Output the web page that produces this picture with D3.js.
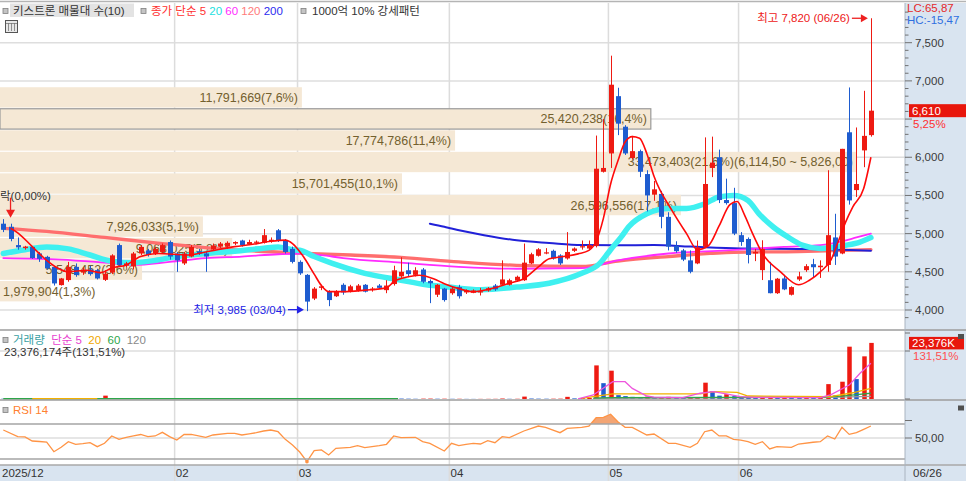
<!DOCTYPE html>
<html><head><meta charset="utf-8">
<script src="https://cdn.jsdelivr.net/npm/d3@7"></script>
<style>
html,body{margin:0;padding:0;background:#fff;overflow:hidden}
svg{display:block;font-family:"Liberation Sans","Noto Sans CJK KR",sans-serif}
</style></head><body>
<svg id="c" width="966" height="481"></svg>
<script>
// ---------------- DATA ----------------
const dates = [
"2025-12-26","2025-12-29","2025-12-30",
"2026-01-02","2026-01-05","2026-01-06","2026-01-07","2026-01-08","2026-01-09","2026-01-12","2026-01-13","2026-01-14","2026-01-15","2026-01-16","2026-01-19","2026-01-20","2026-01-21","2026-01-22","2026-01-23","2026-01-26","2026-01-27","2026-01-28","2026-01-29","2026-01-30",
"2026-02-02","2026-02-03","2026-02-04","2026-02-05","2026-02-06","2026-02-09","2026-02-10","2026-02-11","2026-02-12","2026-02-13","2026-02-19","2026-02-20","2026-02-23","2026-02-24","2026-02-25","2026-02-26","2026-02-27",
"2026-03-03","2026-03-04","2026-03-05","2026-03-06","2026-03-09","2026-03-10","2026-03-11","2026-03-12","2026-03-13","2026-03-16","2026-03-17","2026-03-18","2026-03-19","2026-03-20","2026-03-23","2026-03-24","2026-03-25","2026-03-26","2026-03-27","2026-03-30","2026-03-31",
"2026-04-01","2026-04-02","2026-04-03","2026-04-06","2026-04-07","2026-04-08","2026-04-09","2026-04-10","2026-04-13","2026-04-14","2026-04-15","2026-04-16","2026-04-17","2026-04-20","2026-04-21","2026-04-22","2026-04-23","2026-04-24","2026-04-27","2026-04-28","2026-04-29","2026-04-30",
"2026-05-04","2026-05-06","2026-05-07","2026-05-08","2026-05-11","2026-05-12","2026-05-13","2026-05-14","2026-05-15","2026-05-18","2026-05-19","2026-05-20","2026-05-21","2026-05-22","2026-05-26","2026-05-27","2026-05-28","2026-05-29",
"2026-06-01","2026-06-02","2026-06-04","2026-06-05","2026-06-08","2026-06-09","2026-06-10","2026-06-11","2026-06-12","2026-06-15","2026-06-16","2026-06-17","2026-06-18","2026-06-19","2026-06-22","2026-06-23","2026-06-24","2026-06-25","2026-06-26"];

const opens = [5130,5090,4850,4810,4826,4740,4696,4565,4326,4392,
4565,4495,4530,4522,4395,4490,4850,4580,4570,4740,
4780,4740,4760,4890,4740,4610,4700,4770,4740,4795,
4830,4830,4870,4910,4860,4880,4880,4900,5044,4913,
4800,4630,4460,4150,4290,4240,4180,4330,4240,4260,
4330,4260,4320,4260,4340,4440,4520,4460,4530,4380,
4200,4280,4220,4300,4230,4225,4240,4255,4320,4330,
4330,4385,4390,4610,4710,4750,4775,4715,4675,4775,
4830,4805,4840,5810,6050,6800,6400,5990,6080,5780,
5510,5520,5220,4840,4780,4650,4610,4830,5860,6000,
5440,5400,4980,4930,4740,4522,4390,4220,4413,4200,
4400,4522,4600,4560,4590,4950,4740,6327,5570,6090,
6290];
const highs = [5190,5130,4950,4840,4830,4760,4710,4570,4420,4630,
4610,4560,4580,4540,4520,4730,4870,4630,4760,4850,
4800,4830,4870,4910,4760,4760,4850,4800,4760,4870,
4890,4900,4900,4920,4920,4910,5060,4950,5060,4930,
4830,4650,4470,4300,4330,4260,4260,4350,4330,4340,
4340,4300,4340,4390,4580,4690,4620,4560,4550,4400,
4340,4290,4300,4330,4270,4270,4290,4300,4340,4650,
4410,4450,4870,4750,4810,4810,4790,4730,5020,4820,
4910,4910,6284,6500,7330,6910,6420,6280,6100,5830,
5690,5560,5280,4900,4800,4780,4910,6260,6270,6100,
5720,5600,5020,4950,4800,4913,4630,4420,4460,4310,
4500,4600,4670,4650,5830,5260,6110,6914,6390,6870,
7820];
const lows = [5020,4900,4790,4790,4670,4630,4530,4320,4320,4370,
4435,4460,4450,4400,4380,4470,4570,4560,4530,4720,
4700,4720,4740,4660,4500,4590,4690,4720,4500,4780,
4810,4800,4850,4830,4850,4860,4870,4880,4890,4740,
4610,4460,3985,4130,4260,4050,4170,4200,4230,4240,
4230,4240,4280,4220,4320,4420,4430,4440,4350,4090,
4170,4110,4200,4150,4210,4220,4190,4240,4250,4320,
4320,4370,4380,4600,4700,4730,4660,4590,4660,4760,
4790,4790,4820,5800,5860,6290,6030,5970,5740,5290,
5430,5070,4780,4750,4640,4480,4600,4810,5740,5400,
5380,4980,4840,4610,4640,4392,4218,4210,4260,4190,
4380,4500,4420,4420,4500,4590,4730,5380,5480,5870,
6270];
const closes = [5050,4930,4820,4830,4680,4670,4545,4348,4413,4565,
4457,4505,4470,4413,4475,4715,4590,4610,4740,4826,
4720,4800,4850,4700,4650,4740,4826,4740,4700,4845,
4870,4880,4890,4850,4890,4895,4980,4920,4913,4760,
4630,4480,4110,4280,4310,4130,4240,4230,4310,4320,
4240,4280,4290,4320,4520,4500,4470,4520,4370,4350,
4330,4130,4280,4180,4256,4255,4245,4285,4270,4400,
4390,4435,4620,4730,4795,4755,4675,4610,4760,4805,
4835,4850,5850,5860,6950,6440,6050,6080,5810,5500,
5580,5220,4830,4770,4660,4500,4820,5650,5930,5440,
5400,5000,4890,4720,4760,4800,4220,4410,4270,4300,
4440,4574,4560,4580,4980,4700,6110,5435,5650,6280,
6610];
const volumes = [110000,150000,90000,70000,130000,100000,160000,210000,120000,180000,
110000,80000,90000,100000,1400000,200000,180000,90000,150000,120000,
80000,90000,110000,140000,130000,100000,120000,70000,110000,90000,
80000,90000,60000,80000,70000,60000,150000,70000,130000,140000,
160000,180000,240000,200000,120000,160000,90000,100000,80000,70000,
90000,60000,70000,110000,200000,180000,140000,100000,150000,170000,
120000,130000,90000,100000,60000,50000,60000,70000,80000,200000,
90000,100000,1000000,200000,150000,120000,130000,140000,900000,250000,
400000,500000,14000000,6600000,11800000,1600000,1200000,900000,800000,1000000,
700000,800000,900000,600000,500000,600000,700000,6800000,3300000,1400000,
2000000,1200000,900000,800000,500000,700000,900000,600000,700000,500000,
400000,500000,400000,500000,6200000,1500000,7200000,21800000,8300000,17775000,
23376174];

// moving averages: [trading-day index, value]
const ma5Pts = [[1,5070],[2,5010],[4,4830],[6,4650],[7.5,4550],[9,4500],[11.5,4520],[13.5,4490],[15,4550],[17,4590],[19,4700],[21.5,4740],[25.5,4720],[28,4760],[32,4830],[34.5,4860],[37,4900],[39,4915],[40,4870],[41.5,4700],[43,4470],[44,4320],[45,4240],[47,4240],[50,4260],[53,4290],[54,4370],[56,4435],[57.5,4455],[59.5,4410],[61,4345],[63,4280],[65,4240],[67.5,4280],[70,4350],[72,4410],[74,4565],[75.5,4670],[77.5,4700],[79.5,4735],[81,4780],[82,4900],[83,5200],[84,5650],[85,5950],[86,6200],[87,6270],[88,6250],[89,6050],[90,5750],[92.5,5300],[94.5,5000],[96,4790],[97.5,4840],[99,5100],[100.5,5380],[101.5,5420],[102.5,5250],[103.5,5030],[105,4740],[107.5,4500],[110,4330],[111.5,4390],[113,4500],[114.5,4660],[115.5,4900],[116.5,5150],[117.5,5350],[119,5590],[120,6000]];
const ma20Pts = [[0,4740],[3,4790],[6,4826],[9,4800],[12,4720],[15,4640],[18,4620],[21,4650],[24,4700],[28,4740],[32,4770],[36,4810],[38,4826],[40,4790],[41,4783],[43,4700],[45.5,4610],[50,4480],[55,4390],[58.5,4330],[61.5,4300],[66,4265],[71,4300],[75.5,4350],[80,4480],[82.5,4610],[84,4790],[85.5,4960],[86.5,5090],[89,5260],[92,5330],[94.5,5330],[97,5390],[99,5480],[101,5500],[103,5435],[104.5,5262],[106.5,5087],[108.5,4957],[110.5,4850],[113,4805],[115,4826],[116.5,4848],[118.5,4890],[120,4948]];
const ma60Pts = [[0,4680],[8,4660],[14,4620],[18,4590],[23,4630],[28,4680],[33,4700],[38,4730],[41,4740],[44,4718],[47,4680],[55,4620],[63,4565],[71,4540],[80,4548],[85,4650],[92,4740],[100,4780],[108,4826],[113,4850],[116,4900],[118,4950],[120,5000]];
const ma120Pts = [[0,5070],[6,5030],[14,4950],[22,4870],[30,4800],[41,4745],[48,4720],[55,4690],[63,4630],[71,4585],[80,4570],[85,4640],[92,4700],[101,4755],[110,4765],[120,4790]];
const ma200Pts = [[59,5130],[61,5090],[62,5066],[66.5,4980],[71,4913],[75.5,4878],[80,4850],[85,4848],[90,4850],[95,4830],[102,4805],[110,4800],[116,4790],[120,4775]];

// volume moving averages (null breaks the line)
const volMa5Pts = [[79.5,100000],[81.6,1700000],[84.3,7200000],[86,7200000],[87,4400000],[89,1250000],[90,800000],[94,600000],[96.4,2400000],[98.2,3100000],[100,2100000],[101.9,1000000],[104,700000],[113,600000],[114.5,1800000],[117,5800000],[118.5,10700000],[120,14900000]];
const volMa20Pts = [[4,150000],[13,150000],[14,null],[80,300000],[81.6,1000000],[84.3,2100000],[96.4,2100000],[98.2,3100000],[101.5,2800000],[103,1250000],[114.4,1000000],[117.5,2600000],[120,4400000]];
const volMa60Pts = [[0,100000],[54.6,100000],[55,null],[81.6,400000],[84,600000],[100,700000],[113,800000],[116,1200000],[118,1800000],[120,2400000]];
const volMa120Pts = [[81.6,300000],[100,500000],[113,600000],[120,1100000]];

// RSI 14
const rsiPts = [[0,61.4],[2,51.9],[3,51.5],[4,45.7],[5,45],[6,44],[7,30.4],[8,36.7],[9,44.8],[10,41],[11,42],[12,43.3],[13,37.6],[14,42.4],[15,52.9],[16,48.1],[17,51],[18,53],[19,55],[20,51.9],[21,52.9],[22,58.1],[23,51.9],[24,47.1],[25,55],[26,55.2],[28,51],[29,54.3],[31,56.7],[32,56.7],[33,54.3],[34,56],[35,57.6],[36,60],[37,61.4],[38,59],[39,48.1],[40,40],[41,30],[42,16.1],[43,31.9],[44,32.9],[45,25.7],[46,35.2],[47,36],[48,36.7],[49,39],[50,36.2],[52,39],[53,41],[54,52.9],[55,50.5],[57,51],[58,44.8],[59,42.4],[61,31.4],[62,42.4],[63,39],[64,41],[65,42.4],[66,41.4],[67,46.2],[68,43.3],[69,51.9],[70,50.5],[72,60],[74,67.1],[75,65.2],[77,57.6],[78,63.8],[80,65.2],[81,67.1],[82,79],[83,79.6],[84,83.9],[85,73.3],[86,65.2],[87,65.2],[89,54.3],[90,55.7],[92,42.4],[93,42.4],[95,36.7],[96,42.4],[97,59],[98,61.4],[99,52.9],[100,52.9],[101,48],[102,47.1],[103,44.8],[104,41],[105,44.8],[106,34.3],[107,37.6],[109,36.7],[110,41.4],[112,43.9],[113,44.8],[114,52.9],[115,48.6],[116,65.2],[117,55.2],[118,57.6],[119,62.4],[120,67.1]];

// price-volume profile (매물대), top band first
const bandEdges = [6925,6643,6361,6079,5797,5515,5233,4951,4669,4387,4105];
const bandVolumes = [11791669,25420238,17774786,33473403,15701455,26596556,7926033,9068025,5548452,1979904];
const bandPercents = [7.6,16.4,11.4,21.6,10.1,17.1,5.1,5.8,3.6,1.3];
const maxBandRange = [6114.50,5826.00];

const priceTicks = [4000,4500,5000,5500,6000,6500,7000,7500];
const monthTicks = [["2025-12-26","2025/12"],["2026-02-02","02"],["2026-03-03","03"],["2026-04-01","04"],["2026-05-04","05"],["2026-06-01","06"]];
const lcHc = ["LC:65,87","HC:-15,47"];
const signalLabel = "락(0,00%)";

// ---------------- DRAW ----------------
const svg = d3.select('#c');
const W = 966, H = 481, PR = 905;
const N = dates.length;
const x = d3.scaleLinear().domain([0, N-1]).range([3.3, 870.9]);
const yP = d3.scaleLinear().domain([4000, 7500]).range([310, 42.7]);
const yV = d3.scaleLinear().domain([0, 20e6]).range([399, 351]);
const yR = d3.scaleLinear().domain([20, 70]).range([459, 424]);
const UP = '#ee1a12', DN = '#1e5ccf';
const comma = s => s.replace(/\./g, ',');
const fmtInt = d3.format(',');
const fmt1 = d3.format('.1f'), fmt2 = d3.format('.2f'), fmtC2 = d3.format(',.2f');

const defs = svg.append('defs');
defs.append('clipPath').attr('id','cpP').append('rect').attr('x',0).attr('y',4).attr('width',PR).attr('height',326);
defs.append('clipPath').attr('id','cpV').append('rect').attr('x',0).attr('y',331).attr('width',PR).attr('height',69);
defs.append('clipPath').attr('id','cpR').append('rect').attr('x',0).attr('y',401).attr('width',PR).attr('height',64);
defs.append('clipPath').attr('id','cpOB').append('rect').attr('x',0).attr('y',401).attr('width',PR).attr('height',yR(70)-401);

// backgrounds
svg.append('rect').attr('width',W).attr('height',H).attr('fill','#fff');
svg.append('rect').attr('x',PR).attr('y',3).attr('width',W-PR).attr('height',462).attr('fill','#d9e4f0');
svg.append('rect').attr('x',0).attr('y',465).attr('width',W).attr('height',16).attr('fill','#d9e4f0');
svg.append('line').attr('x1',0).attr('x2',W).attr('y1',1.5).attr('y2',1.5).attr('stroke','#b4b4b4').attr('stroke-width',1.5);

// grid
const grid = svg.append('g');
grid.selectAll('line.hp').data(priceTicks).join('line')
  .attr('x1',0).attr('x2',PR).attr('y1',d=>yP(d)).attr('y2',d=>yP(d))
  .attr('stroke','#dedede').attr('stroke-width',1.5);
grid.append('line').attr('x1',0).attr('x2',PR).attr('y1',yV(20e6)).attr('y2',yV(20e6)).attr('stroke','#dedede').attr('stroke-width',1.5);
grid.append('line').attr('x1',0).attr('x2',PR).attr('y1',yR(50)).attr('y2',yR(50)).attr('stroke','#dedede').attr('stroke-width',1.5);
const mIdx = monthTicks.map(m => [dates.indexOf(m[0]), m[1]]);
grid.selectAll('line.vm').data(mIdx.slice(1)).join('line')
  .attr('x1',d=>x(d[0])-2.2).attr('x2',d=>x(d[0])-2.2).attr('y1',3).attr('y2',H)
  .attr('stroke','#dcdcdc').attr('stroke-width',1.5);

// profile bands
const bw = d3.scaleLinear().domain([0, d3.max(bandVolumes)]).range([0, 857]);
const lastC = closes[N-1], prevC = closes[N-2];
const curBand = bandEdges.findIndex((e,i)=> i<bandEdges.length-1 && lastC <= e && lastC > bandEdges[i+1]);
const maxBand = bandVolumes.indexOf(d3.max(bandVolumes));
const bands = svg.append('g');
bandVolumes.forEach((v,i)=>{
  const y0 = yP(bandEdges[i]) + 0.6, y1 = yP(bandEdges[i+1]) - 0.6;
  bands.append('rect').attr('x',0).attr('y',y0).attr('width',bw(v)).attr('height',y1-y0)
    .attr('fill','#f5e8d5')
    .attr('stroke', i===curBand ? '#9a9a9a' : 'none').attr('stroke-width',1.2);
  let label = fmtInt(v) + '(' + comma(fmt1(bandPercents[i])) + '%)';
  if (i === maxBand) label += '(' + comma(fmtC2(maxBandRange[0])) + ' ~ ' + comma(fmtC2(maxBandRange[1])) + ')';
  const t = bands.append('text').attr('y',(y0+y1)/2).attr('dy','0.36em')
    .attr('font-size',12.5).attr('fill','#73602e').text(label);
  const tw = t.node().getComputedTextLength();
  if (tw + 8 > bw(v)) t.attr('x',3).attr('text-anchor','start');
  else t.attr('x',bw(v)-4).attr('text-anchor','end');
});

// price MAs
const pLine = d3.line().x(d=>x(d[0])).y(d=>yP(d[1])).curve(d3.curveMonotoneX);
const gP = svg.append('g').attr('clip-path','url(#cpP)');
[[ma120Pts,'#ff6e6e',3.3],[ma200Pts,'#2121d8',2],[ma60Pts,'#ff2bff',1.8],[ma20Pts,'#3ff0f0',5.5]].forEach(([pts,c,w])=>{
  gP.append('path').attr('d',pLine(pts)).attr('fill','none').attr('stroke',c).attr('stroke-width',w).attr('stroke-linejoin','round').attr('stroke-linecap','round');
});

// candles
const cg = gP.append('g');
d3.range(N).forEach(i=>{
  const up = closes[i] >= opens[i];
  const col = up ? UP : DN;
  const cx = Math.round(x(i)) + 0.5;
  cg.append('line').attr('x1',cx).attr('x2',cx).attr('y1',yP(highs[i])).attr('y2',yP(lows[i])).attr('stroke',col).attr('stroke-width',1);
  const yt = yP(Math.max(opens[i],closes[i])), yb = yP(Math.min(opens[i],closes[i]));
  cg.append('rect').attr('x',cx-2.5).attr('y',yt).attr('width',5).attr('height',Math.max(1.2,yb-yt)).attr('fill',col);
});
gP.append('path').attr('d',pLine(ma5Pts)).attr('fill','none').attr('stroke','#ff0a0a').attr('stroke-width',1.6);

// annotations
const lowIdx = lows.indexOf(d3.min(lows)), highIdx = highs.indexOf(d3.max(highs));
const ann = svg.append('g').attr('font-size',11.5);
function hArrow(g, xTip, y, col){
  g.append('line').attr('x1',xTip-16).attr('x2',xTip-5).attr('y1',y).attr('y2',y).attr('stroke',col).attr('stroke-width',1.3);
  g.append('path').attr('d',`M${xTip},${y}L${xTip-7},${y-4}L${xTip-7},${y+4}Z`).attr('fill',col);
}
const loY = yP(lows[lowIdx]) - 1.5;
hArrow(ann, x(lowIdx)-3, loY, '#2323e6');
ann.append('text').attr('x',x(lowIdx)-21).attr('y',loY+4).attr('text-anchor','end').attr('fill','#2323e6')
  .text('최저 ' + fmtInt(lows[lowIdx]) + ' (' + dates[lowIdx].slice(5).replace('-','/') + ')');
const hiY = yP(highs[highIdx]);
hArrow(ann, x(highIdx)-3, hiY, '#ee2020');
ann.append('text').attr('x',x(highIdx)-21).attr('y',hiY+4).attr('text-anchor','end').attr('fill','#ee2020')
  .text('최고 ' + fmtInt(highs[highIdx]) + ' (' + dates[highIdx].slice(5).replace('-','/') + ')');
// signal arrow at candle 1
const sx = x(1), sTip = yP(highs[1]) - 6;
ann.append('line').attr('x1',sx).attr('x2',sx).attr('y1',sTip-20).attr('y2',sTip-6).attr('stroke','#ee2020').attr('stroke-width',1.3);
ann.append('path').attr('d',`M${sx},${sTip}L${sx-4.5},${sTip-8}L${sx+4.5},${sTip-8}Z`).attr('fill','#ee2020');
ann.append('text').attr('x',0).attr('y',sTip-18).attr('fill','#333').text(signalLabel);

// volume
const gV = svg.append('g').attr('clip-path','url(#cpV)');
volumes.forEach((v,i)=>{
  const col = (i>0 && v > volumes[i-1]) ? UP : DN;
  gV.append('rect').attr('x',Math.round(x(i))-1.75).attr('y',yV(v)).attr('width',4.5).attr('height',yV(0)-yV(v)).attr('fill',col);
});
const vLine = d3.line().defined(d=>d[1]!=null).x(d=>x(d[0])).y(d=>yV(d[1]));
[[volMa120Pts,'#9a9a9a'],[volMa60Pts,'#2ea64a'],[volMa20Pts,'#f2b000'],[volMa5Pts,'#ee55dd']].forEach(([pts,c])=>{
  gV.append('path').attr('d',vLine(pts)).attr('fill','none').attr('stroke',c).attr('stroke-width',1.3);
});

// RSI
const gR = svg.append('g').attr('clip-path','url(#cpR)');
gR.append('path').attr('clip-path','url(#cpOB)')
  .attr('d', d3.area().x(d=>x(d[0])).y0(yR(70)).y1(d=>yR(d[1]))(rsiPts)).attr('fill','#f3a574');
gR.append('path').attr('d', d3.line().x(d=>x(d[0])).y(d=>yR(d[1]))(rsiPts)).attr('fill','none').attr('stroke','#ff9445').attr('stroke-width',1.3);
const rMin = rsiPts.reduce((a,b)=> b[1]<a[1]?b:a);
gR.append('circle').attr('cx',x(rMin[0])).attr('cy',yR(rMin[1])).attr('r',1.8).attr('fill','#ff9445');

// separators
const sep = svg.append('g');
[[330,'#9c9c9c',W],[400,'#9c9c9c',W],[yR(70),'#a4a4a4',PR],[yR(20),'#a4a4a4',PR],[465,'#a8a8a8',W]].forEach(([y,c,x2])=>{
  sep.append('line').attr('x1',0).attr('x2',x2).attr('y1',y).attr('y2',y).attr('stroke',c).attr('stroke-width',1.5);
});
sep.append('line').attr('x1',PR).attr('x2',PR).attr('y1',3).attr('y2',H).attr('stroke','#aab4c0').attr('stroke-width',1);

// legends
const lg = svg.append('g').attr('font-size',11.5);
function icon(xx,yy){ lg.append('rect').attr('x',xx).attr('y',yy).attr('width',5).attr('height',5).attr('fill','#c4c4c4').attr('stroke','#808080').attr('stroke-width',0.8); }
lg.append('rect').attr('x',10).attr('y',3.5).attr('width',124).attr('height',13.5).attr('fill','#e3e3e3');
icon(3,8.5);
lg.append('text').attr('x',13).attr('y',15).attr('fill','#333').text('키스트론 매물대 수(10)');
icon(141,8.5);
const legTxt = lg.append('text').attr('x',151).attr('y',15);
[['종가 단순 5','#ff3030'],[' 20','#22e0e0'],[' 60','#ff2bff'],[' 120','#ff7b7b'],[' 200','#2b2bf0']].forEach(([t,c])=>legTxt.append('tspan').attr('fill',c).attr('style','white-space:pre').text(t));
icon(301,8.5);
lg.append('text').attr('x',312).attr('y',15).attr('fill','#333').text('1000억 10% 강세패턴');
// table icon
lg.append('rect').attr('x',5.5).attr('y',20.5).attr('width',12).attr('height',12).attr('fill','#e8e8e8').attr('stroke','#555').attr('stroke-width',1);
[8.5,11.5,14.5].forEach(xx=>lg.append('line').attr('x1',xx).attr('x2',xx).attr('y1',23).attr('y2',31).attr('stroke','#777').attr('stroke-width',0.8));
lg.append('line').attr('x1',6).attr('x2',17).attr('y1',23.5).attr('y2',23.5).attr('stroke','#777').attr('stroke-width',0.8);

icon(3,337.5);
const vl = lg.append('text').attr('x',13).attr('y',344);
[['거래량','#3a9fa3'],['  단순 5','#e83fd0'],['  20','#f0a800'],['  60','#2ea64a'],['  120','#8a8a8a']].forEach(([t,c])=>vl.append('tspan').attr('fill',c).attr('style','white-space:pre').text(t));
const lastV = volumes[N-1], prevV = volumes[N-2];
lg.append('text').attr('x',4).attr('y',356).attr('fill','#333')
  .text(fmtInt(lastV) + '주(' + comma(fmt2(lastV/prevV*100)) + '%)');
icon(3,407.5);
lg.append('text').attr('x',13).attr('y',414).attr('fill','#ff8030').text('RSI 14');

// right axis: price
const ax = svg.append('g').attr('font-size',11.5).attr('fill','#3a3a3a');
d3.range(3900, 7901, 100).filter(p=>yP(p)>5 && yP(p)<328).forEach(p=>{
  const major = p % 500 === 0;
  ax.append('line').attr('x1',PR).attr('x2',PR+(major?7:3.5)).attr('y1',yP(p)).attr('y2',yP(p)).attr('stroke','#707070').attr('stroke-width',1);
});
const boxTop = yP(lastC)-6.5, boxBot = yP(lastC)+19;
priceTicks.filter(p=> yP(p) < boxTop-4 || yP(p) > boxBot+4)
  .forEach(p=> ax.append('text').attr('x',PR+10).attr('y',yP(p)+4).text(fmtInt(p)));
ax.append('text').attr('x',PR+2).attr('y',12).attr('fill','#e62a2a').text(lcHc[0]);
ax.append('text').attr('x',PR+2).attr('y',24).attr('fill','#2f6fe0').text(lcHc[1]);
ax.append('rect').attr('x',PR+4).attr('y',yP(lastC)-6.5).attr('width',W-PR-4).attr('height',13).attr('fill','#e8160c');
ax.append('text').attr('x',PR+7).attr('y',yP(lastC)+4.5).attr('fill','#fff').text(fmtInt(lastC));
ax.append('text').attr('x',PR+8).attr('y',yP(lastC)+17).attr('fill','#ff3030').text(comma(fmt2((lastC/prevC-1)*100))+'%');
// volume axis
[yV(0), yV(20e6), 333].forEach(y=>ax.append('line').attr('x1',PR).attr('x2',PR+5).attr('y1',y).attr('y2',y).attr('stroke','#707070'));
ax.append('rect').attr('x',PR+4).attr('y',yV(lastV)-6).attr('width',55).attr('height',12.5).attr('fill','#e8160c');
ax.append('text').attr('x',PR+7).attr('y',yV(lastV)+4.5).attr('fill','#fff').text(fmtInt(Math.round(lastV/1000))+'K');
ax.append('text').attr('x',PR+8).attr('y',yV(lastV)+17).attr('fill','#ff5050').text(comma(fmt2(lastV/prevV*100))+'%');
[[958,334],[958,405.5]].forEach(([a,b])=>ax.append('rect').attr('x',a).attr('y',b).attr('width',6).attr('height',5).attr('fill','#505050'));
// rsi axis
[yR(50), yR(75)].forEach(y=>ax.append('line').attr('x1',PR).attr('x2',PR+7).attr('y1',y).attr('y2',y).attr('stroke','#707070'));
ax.append('text').attr('x',PR+10).attr('y',yR(50)+4).text(comma(fmt2(50)));

// bottom axis labels
const bx = svg.append('g').attr('font-size',11.5).attr('fill','#333');
mIdx.forEach(([i,l],k)=> bx.append('text').attr('x', k===0 ? 2 : x(i)-1).attr('y',477).text(l));
bx.append('text').attr('x',PR+8).attr('y',477).text(dates[N-1].slice(5).replace('-','/'));
</script>
</body></html>
